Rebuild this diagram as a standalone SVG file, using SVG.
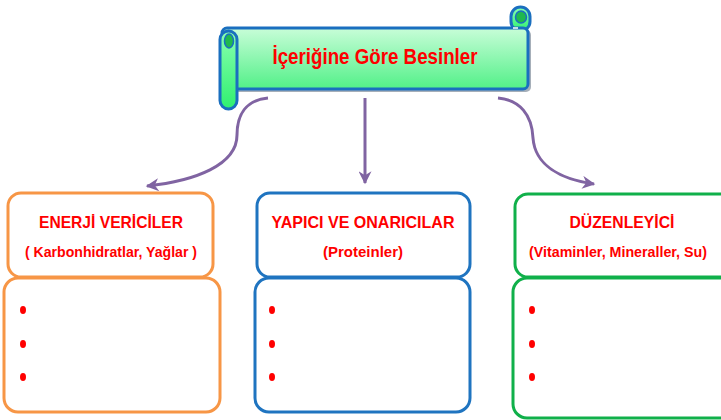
<svg xmlns="http://www.w3.org/2000/svg" width="721" height="420" viewBox="0 0 721 420">
<style>
.t{font-family:"Liberation Sans",Arial,sans-serif;font-weight:bold;fill:#ff0000;text-anchor:middle}
.h{font-size:16.5px}
.s{font-size:15px}
.o{fill:#fff;stroke:#f79646;stroke-width:3}
.b{fill:#fff;stroke:#1f74c0;stroke-width:3}
.g{fill:#fff;stroke:#10b04a;stroke-width:3}
.dot{fill:#ff0000}
.con{fill:none;stroke:#8064a2;stroke-width:3;marker-end:url(#arr)}
.sc{stroke:#1a6fbf;stroke-width:3}
</style>
<defs>
<linearGradient id="bodyG" x1="0" y1="0" x2="0" y2="1">
<stop offset="0" stop-color="#c8fdd8"/>
<stop offset="1" stop-color="#52f088"/>
</linearGradient>
<linearGradient id="tubeG" x1="0" y1="0" x2="0" y2="1">
<stop offset="0" stop-color="#8affb0"/>
<stop offset="1" stop-color="#2ff070"/>
</linearGradient>
<marker id="arr" viewBox="0 0 10 10" refX="9" refY="5" markerUnits="userSpaceOnUse" markerWidth="14" markerHeight="13" orient="auto">
<path d="M0,0 L10,5 L0,10 L3,5 z" fill="#8064a2"/>
</marker>
</defs>

<g id="title">
<rect x="224" y="30" width="307" height="62" rx="5" fill="#6a7a8a" opacity="0.6"/>
<rect x="511" y="7" width="19" height="24" rx="9.5" fill="url(#tubeG)" class="sc"/>
<ellipse cx="521" cy="17" rx="5.5" ry="6" fill="#1fb84e" stroke="#1a6fbf" stroke-width="1.5"/>
<rect x="222" y="28" width="306" height="61" rx="5" fill="url(#bodyG)" class="sc"/>
<path d="M513,28 L518,28" stroke="#ffffff" stroke-width="1.5"/>
<rect x="220" y="31" width="17" height="78" rx="8.5" fill="url(#tubeG)" class="sc"/>
<ellipse cx="229" cy="41" rx="4.5" ry="7" fill="#1fb84e" stroke="#1a6fbf" stroke-width="1.5"/>
<text class="t" x="375" y="64" font-size="22" textLength="205" lengthAdjust="spacingAndGlyphs">İçeriğine Göre Besinler</text>
</g>

<g id="connectors">
<path class="con" d="M268,98 C246,100 237,115 237,135 C237,165 195,181 147,186"/>
<path class="con" d="M365,98 L365,183"/>
<path class="con" d="M498,98 C520,100 532,115 533,138 C535,165 560,179 594,184"/>
</g>

<g id="enerji">
<rect class="o" x="4" y="278" width="216" height="134" rx="14"/>
<rect class="o" x="8" y="193" width="205" height="84" rx="13"/>
<text class="t h" x="111" y="228" textLength="144" lengthAdjust="spacingAndGlyphs">ENERJİ VERİCİLER</text>
<text class="t s" x="111" y="257" textLength="172" lengthAdjust="spacingAndGlyphs">( Karbonhidratlar, Yağlar )</text>
<ellipse class="dot" cx="23" cy="310" rx="3" ry="4"/>
<ellipse class="dot" cx="23" cy="344" rx="3" ry="4"/>
<ellipse class="dot" cx="23" cy="377" rx="3" ry="4"/>
</g>

<g id="yapici">
<rect class="b" x="255" y="278" width="215" height="134" rx="14"/>
<rect class="b" x="257" y="193" width="213" height="84" rx="13"/>
<text class="t h" x="363" y="228" textLength="183" lengthAdjust="spacingAndGlyphs">YAPICI VE ONARICILAR</text>
<text class="t s" x="363" y="257" textLength="80" lengthAdjust="spacingAndGlyphs">(Proteinler)</text>
<ellipse class="dot" cx="272" cy="310" rx="3" ry="4"/>
<ellipse class="dot" cx="272" cy="344" rx="3" ry="4"/>
<ellipse class="dot" cx="272" cy="377" rx="3" ry="4"/>
</g>

<g id="duzenleyici">
<rect class="g" x="513" y="278" width="222" height="140" rx="14"/>
<rect class="g" x="515" y="194" width="220" height="83" rx="13"/>
<text class="t h" x="622" y="228" textLength="105" lengthAdjust="spacingAndGlyphs">DÜZENLEYİCİ</text>
<text class="t s" x="618" y="257" textLength="178" lengthAdjust="spacingAndGlyphs">(Vitaminler, Mineraller, Su)</text>
<ellipse class="dot" cx="532" cy="310" rx="3" ry="4"/>
<ellipse class="dot" cx="532" cy="344" rx="3" ry="4"/>
<ellipse class="dot" cx="532" cy="377" rx="3" ry="4"/>
</g>
</svg>
